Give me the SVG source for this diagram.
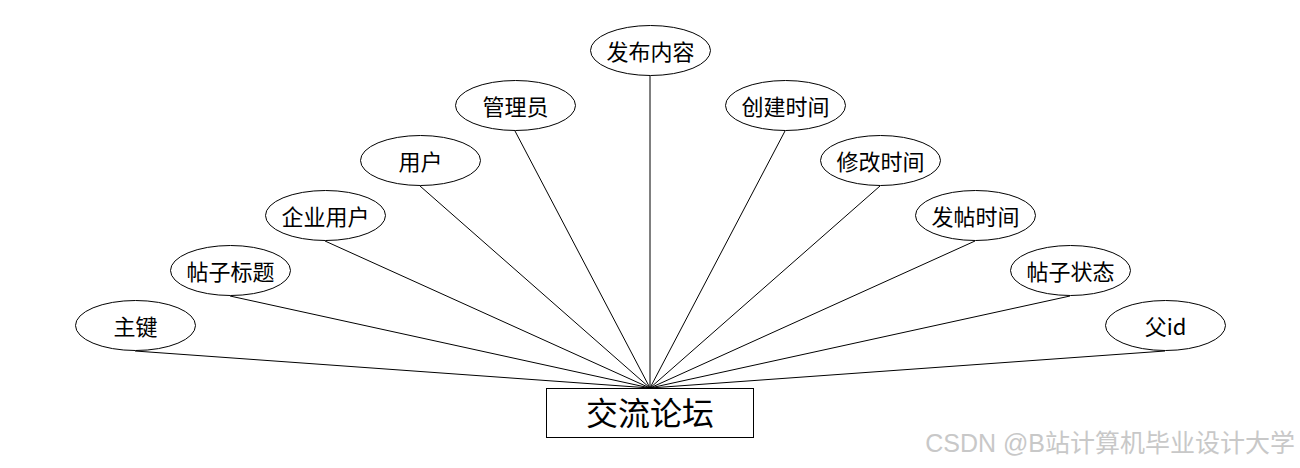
<svg xmlns="http://www.w3.org/2000/svg" width="1300" height="468" viewBox="0 0 1300 468">
<style>
.e{fill:#fff;stroke:#000;stroke-width:1}
.t{font-family:"Noto Sans CJK SC","Liberation Sans",sans-serif;font-size:22px;text-anchor:middle;dominant-baseline:central;fill:#000}
.c line{stroke:#000;stroke-width:1}
</style>
<rect width="1300" height="468" fill="#fff"/>
<g class="c" id="connectors">
<line x1="135" y1="351" x2="650" y2="388"/>
<line x1="230" y1="296" x2="650" y2="388"/>
<line x1="325" y1="241" x2="650" y2="388"/>
<line x1="420" y1="186" x2="650" y2="388"/>
<line x1="515" y1="131" x2="650" y2="388"/>
<line x1="650" y1="76" x2="650" y2="388"/>
<line x1="785" y1="131" x2="650" y2="388"/>
<line x1="880" y1="186" x2="650" y2="388"/>
<line x1="975" y1="241" x2="650" y2="388"/>
<line x1="1070" y1="296" x2="650" y2="388"/>
<line x1="1165" y1="351" x2="650" y2="388"/>
</g>
<g id="n1"><ellipse class="e" cx="135.5" cy="325.5" rx="60" ry="25"/><text class="t" x="135.5" y="324.5">主键</text></g>
<g id="n2"><ellipse class="e" cx="230.5" cy="270.5" rx="60" ry="25"/><text class="t" x="230.5" y="269.5">帖子标题</text></g>
<g id="n3"><ellipse class="e" cx="325.5" cy="215.5" rx="60" ry="25"/><text class="t" x="325.5" y="214.5">企业用户</text></g>
<g id="n4"><ellipse class="e" cx="420.5" cy="160.5" rx="60" ry="25"/><text class="t" x="420.5" y="159.5">用户</text></g>
<g id="n5"><ellipse class="e" cx="515.5" cy="105.5" rx="60" ry="25"/><text class="t" x="515.5" y="104.5">管理员</text></g>
<g id="n6"><ellipse class="e" cx="650.5" cy="50.5" rx="60" ry="25"/><text class="t" x="650.5" y="49.5">发布内容</text></g>
<g id="n7"><ellipse class="e" cx="785.5" cy="105.5" rx="60" ry="25"/><text class="t" x="785.5" y="104.5">创建时间</text></g>
<g id="n8"><ellipse class="e" cx="880.5" cy="160.5" rx="60" ry="25"/><text class="t" x="880.5" y="159.5">修改时间</text></g>
<g id="n9"><ellipse class="e" cx="975.5" cy="215.5" rx="60" ry="25"/><text class="t" x="975.5" y="214.5">发帖时间</text></g>
<g id="n10"><ellipse class="e" cx="1070.5" cy="270.5" rx="60" ry="25"/><text class="t" x="1070.5" y="269.5">帖子状态</text></g>
<g id="n11"><ellipse class="e" cx="1165.5" cy="325.5" rx="60" ry="25"/><text class="t" x="1165.5" y="324.5">父id</text></g>
<g id="entity"><rect x="546.5" y="388.5" width="207" height="49" fill="#fff" stroke="#000"/><text class="t" x="650" y="411" style="font-size:32px">交流论坛</text></g>
<text x="1295" y="452" style="font-family:'Liberation Sans','Noto Sans CJK SC',sans-serif;font-size:25px;text-anchor:end;fill:#c8c8c8">CSDN @B站计算机毕业设计大学</text>
</svg>
